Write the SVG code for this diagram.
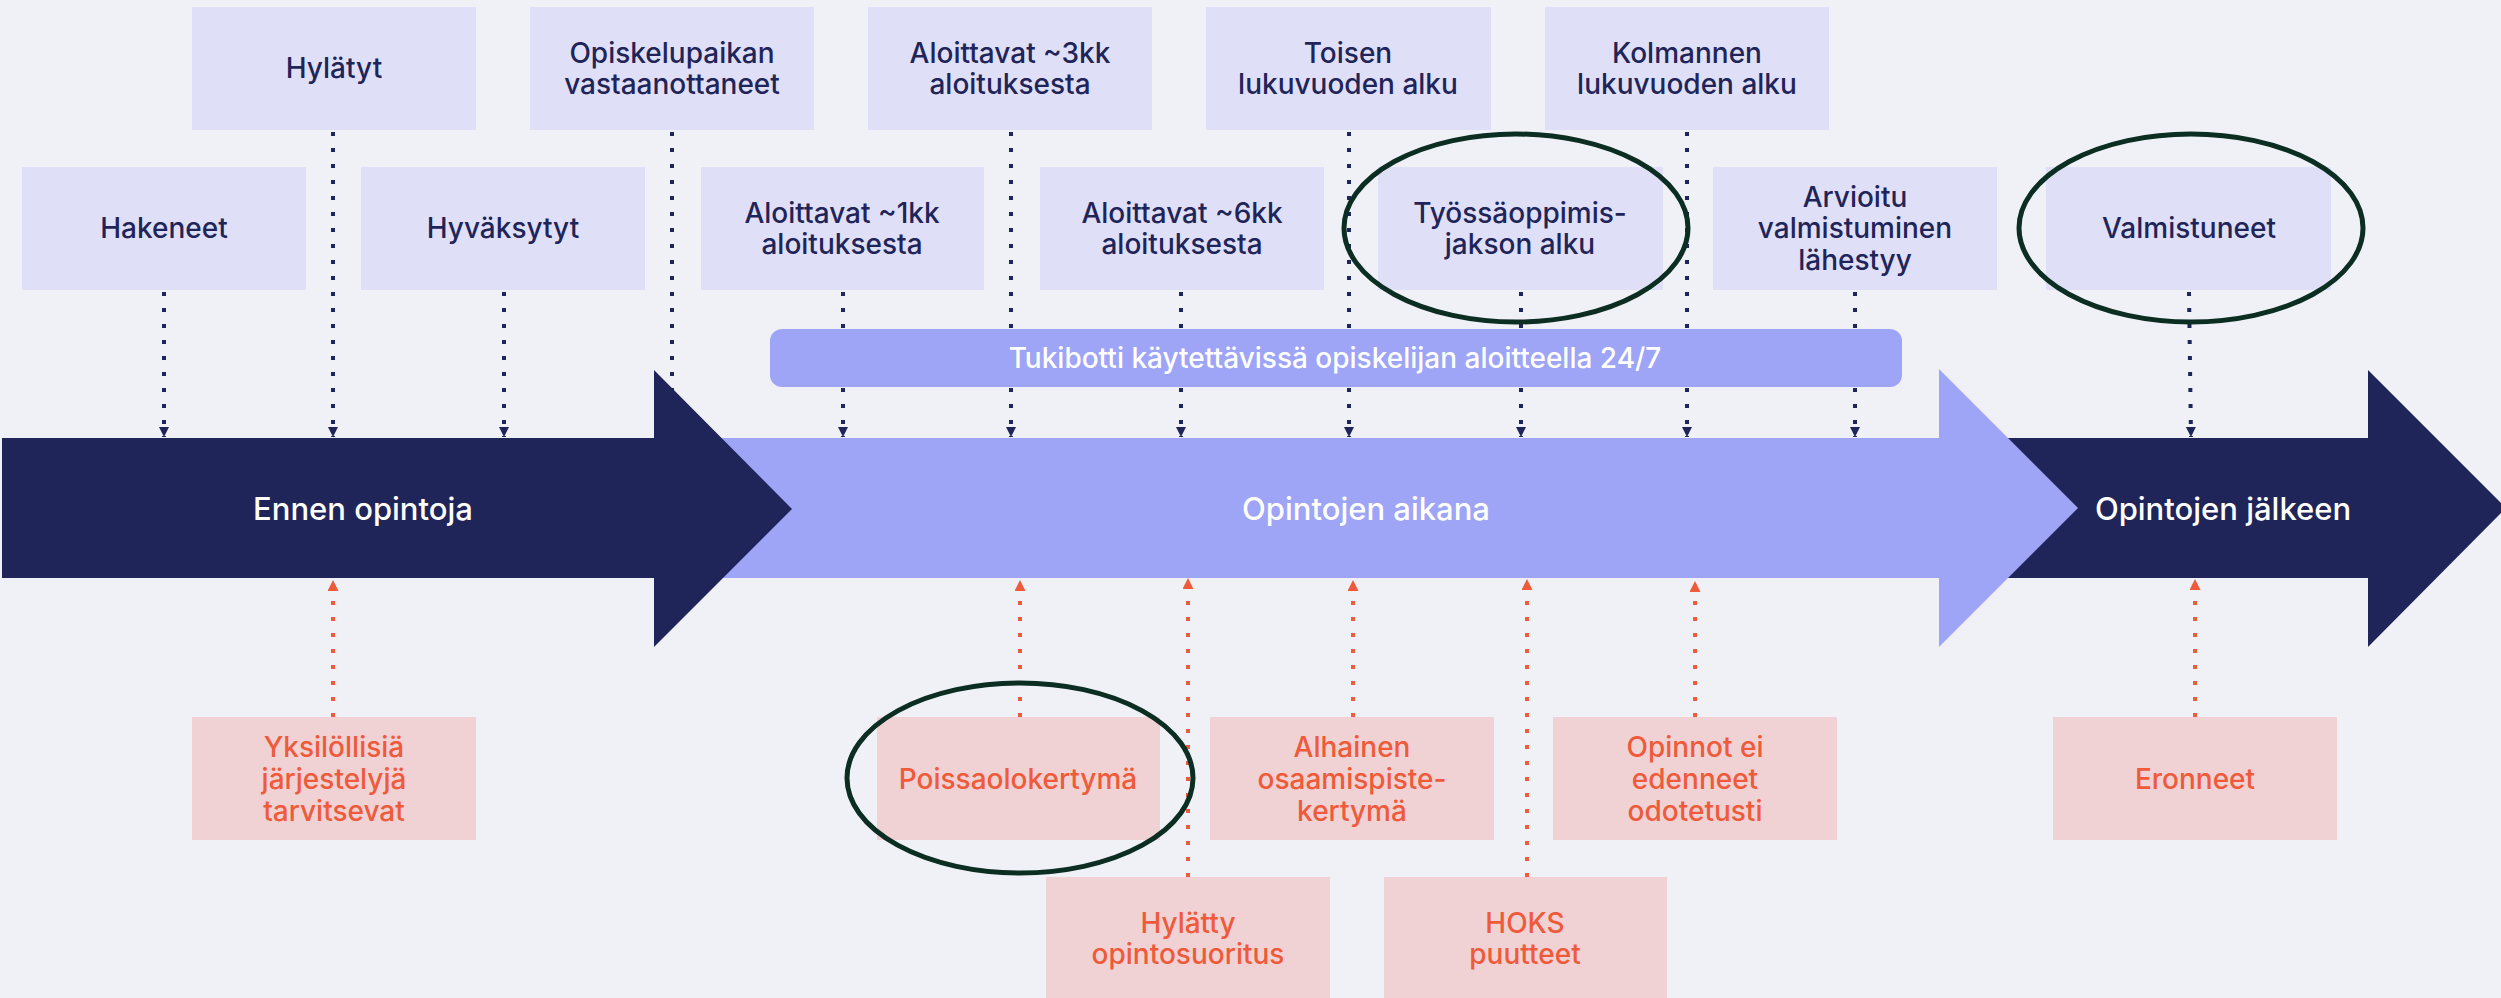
<svg xmlns="http://www.w3.org/2000/svg" width="2501" height="998" viewBox="0 0 2501 998">
<style>
text{font-family:Inter,"Open Sans","Liberation Sans",sans-serif;font-weight:500;text-anchor:middle;dominant-baseline:central}
.tb{fill:#dfe0f7}
.tt{fill:#1f2459;font-size:28px}
.pb{fill:#f0d2d4}
.pt{fill:#ef5a3a;font-size:28px}
.dn{stroke:#1f2459;stroke-width:4;stroke-dasharray:4 12;fill:none}
.up{stroke:#ef5a3a;stroke-width:4;stroke-dasharray:4 12;fill:none}
.ring{fill:none;stroke:#0b2d22;stroke-width:5}
.big{fill:#ffffff;font-size:31px}
</style>
<defs>
<marker id="mn" markerUnits="userSpaceOnUse" markerWidth="11" markerHeight="11" refX="10" refY="5" orient="auto"><path d="M0,0 L10,5 L0,10 z" fill="#1f2459"/></marker>
<marker id="mo" markerUnits="userSpaceOnUse" markerWidth="12" markerHeight="12" refX="11" refY="5.5" orient="auto"><path d="M0,0 L11,5.5 L0,11 z" fill="#ef5a3a"/></marker>
</defs>
<rect width="2501" height="998" fill="#f0f1f7"/>

<g id="connectors">
<line class="dn" x1="164" y1="292" x2="164" y2="437" marker-end="url(#mn)"/>
<line class="dn" x1="333" y1="132" x2="333" y2="437" marker-end="url(#mn)"/>
<line class="dn" x1="504" y1="292" x2="504" y2="437" marker-end="url(#mn)"/>
<line class="dn" x1="672" y1="132" x2="672" y2="437" marker-end="url(#mn)"/>
<line class="dn" x1="843" y1="292" x2="843" y2="437" marker-end="url(#mn)"/>
<line class="dn" x1="1011" y1="132" x2="1011" y2="437" marker-end="url(#mn)"/>
<line class="dn" x1="1181" y1="292" x2="1181" y2="437" marker-end="url(#mn)"/>
<line class="dn" x1="1349" y1="132" x2="1349" y2="437" marker-end="url(#mn)"/>
<line class="dn" x1="1521" y1="292" x2="1521" y2="437" marker-end="url(#mn)"/>
<line class="dn" x1="1687" y1="132" x2="1687" y2="437" marker-end="url(#mn)"/>
<line class="dn" x1="1855" y1="292" x2="1855" y2="437" marker-end="url(#mn)"/>
<line class="dn" x1="2189" y1="292" x2="2191" y2="437" marker-end="url(#mn)"/>
<line class="up" x1="333" y1="717" x2="333" y2="580" marker-end="url(#mo)"/>
<line class="up" x1="1020" y1="717" x2="1020" y2="580" marker-end="url(#mo)"/>
<line class="up" x1="1188" y1="877" x2="1188" y2="578" marker-end="url(#mo)"/>
<line class="up" x1="1353" y1="717" x2="1353" y2="580" marker-end="url(#mo)"/>
<line class="up" x1="1527" y1="877" x2="1527" y2="579" marker-end="url(#mo)"/>
<line class="up" x1="1695" y1="717" x2="1695" y2="581" marker-end="url(#mo)"/>
<line class="up" x1="2195" y1="717" x2="2195" y2="579" marker-end="url(#mo)"/>
</g>

<g id="tukibotti">
<rect x="770" y="329" width="1132" height="58" rx="12" fill="#9ea4f6"/>
<text x="1335" y="358" style="fill:#fff;font-size:28px">Tukibotti käytettävissä opiskelijan aloitteella 24/7</text>
</g>

<g id="phase-after">
<polygon points="2000,438 2368,438 2368,370 2506,508 2368,647 2368,578 2000,578" fill="#1f2459"/>
<text class="big" x="2223" y="508">Opintojen jälkeen</text>
</g>
<g id="phase-during">
<polygon points="650,438 1939,438 1939,369 2078,508 1939,647 1939,578 650,578" fill="#9ea4f6"/>
<text class="big" x="1366" y="508">Opintojen aikana</text>
</g>
<g id="phase-before">
<polygon points="2,438 654,438 654,370 792,509 654,647 654,578 2,578" fill="#1f2459"/>
<text class="big" x="363" y="508">Ennen opintoja</text>
</g>

<g id="hylatyt"><rect class="tb" x="192" y="7" width="284" height="123"/><text class="tt" x="334" y="68">Hylätyt</text></g>
<g id="opiskelupaikan"><rect class="tb" x="530" y="7" width="284" height="123"/><text class="tt" x="672" y="53">Opiskelupaikan</text><text class="tt" x="672" y="84">vastaanottaneet</text></g>
<g id="aloittavat3"><rect class="tb" x="868" y="7" width="284" height="123"/><text class="tt" x="1010" y="53">Aloittavat ~3kk</text><text class="tt" x="1010" y="84">aloituksesta</text></g>
<g id="toisen"><rect class="tb" x="1206" y="7" width="285" height="123"/><text class="tt" x="1348" y="53">Toisen</text><text class="tt" x="1348" y="84">lukuvuoden alku</text></g>
<g id="kolmannen"><rect class="tb" x="1545" y="7" width="284" height="123"/><text class="tt" x="1687" y="53">Kolmannen</text><text class="tt" x="1687" y="84">lukuvuoden alku</text></g>

<g id="hakeneet"><rect class="tb" x="22" y="167" width="284" height="123"/><text class="tt" x="164" y="228">Hakeneet</text></g>
<g id="hyvaksytyt"><rect class="tb" x="361" y="167" width="284" height="123"/><text class="tt" x="503" y="228">Hyväksytyt</text></g>
<g id="aloittavat1"><rect class="tb" x="701" y="167" width="283" height="123"/><text class="tt" x="842" y="213">Aloittavat ~1kk</text><text class="tt" x="842" y="244">aloituksesta</text></g>
<g id="aloittavat6"><rect class="tb" x="1040" y="167" width="284" height="123"/><text class="tt" x="1182" y="213">Aloittavat ~6kk</text><text class="tt" x="1182" y="244">aloituksesta</text></g>
<g id="tyossaoppimis"><rect class="tb" x="1378" y="167" width="285" height="123"/><text class="tt" x="1520" y="213">Työssäoppimis-</text><text class="tt" x="1520" y="244">jakson alku</text></g>
<g id="arvioitu"><rect class="tb" x="1713" y="167" width="284" height="123"/><text class="tt" x="1855" y="197">Arvioitu</text><text class="tt" x="1855" y="228">valmistuminen</text><text class="tt" x="1855" y="260">lähestyy</text></g>
<g id="valmistuneet"><rect class="tb" x="2046" y="167" width="285" height="123"/><text class="tt" x="2189" y="228">Valmistuneet</text></g>

<g id="yksilollisia"><rect class="pb" x="192" y="717" width="284" height="123"/><text class="pt" x="334" y="747">Yksilöllisiä</text><text class="pt" x="334" y="779">järjestelyjä</text><text class="pt" x="334" y="811">tarvitsevat</text></g>
<g id="poissaolo"><rect class="pb" x="877" y="717" width="283" height="123"/><text class="pt" x="1018" y="779">Poissaolokertymä</text></g>
<g id="alhainen"><rect class="pb" x="1210" y="717" width="284" height="123"/><text class="pt" x="1352" y="747">Alhainen</text><text class="pt" x="1352" y="779">osaamispiste-</text><text class="pt" x="1352" y="811">kertymä</text></g>
<g id="opinnot-ei"><rect class="pb" x="1553" y="717" width="284" height="123"/><text class="pt" x="1695" y="747">Opinnot ei</text><text class="pt" x="1695" y="779">edenneet</text><text class="pt" x="1695" y="811">odotetusti</text></g>
<g id="eronneet"><rect class="pb" x="2053" y="717" width="284" height="123"/><text class="pt" x="2195" y="779">Eronneet</text></g>
<g id="hylatty"><rect class="pb" x="1046" y="877" width="284" height="123"/><text class="pt" x="1188" y="923">Hylätty</text><text class="pt" x="1188" y="954">opintosuoritus</text></g>
<g id="hoks"><rect class="pb" x="1384" y="877" width="283" height="123"/><text class="pt" x="1525" y="923">HOKS</text><text class="pt" x="1525" y="954">puutteet</text></g>

<g id="highlights">
<ellipse class="ring" cx="1516" cy="228" rx="172" ry="94"/>
<ellipse class="ring" cx="2191" cy="228" rx="172" ry="94"/>
<ellipse class="ring" cx="1020" cy="778" rx="173" ry="95"/>
</g>
</svg>
